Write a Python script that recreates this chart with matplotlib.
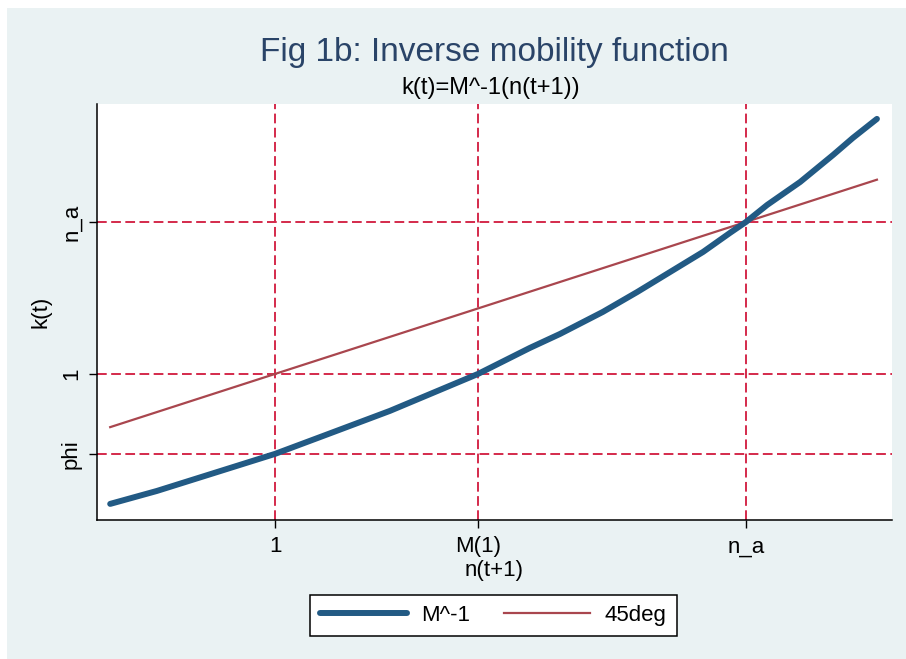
import matplotlib
matplotlib.use("Agg")
import matplotlib.pyplot as plt
from matplotlib.patches import Rectangle

# ---- data ----
phi = 0.474
M1 = 1.431
n_a = 2.0

m_inv_x = [0.650, 0.749, 1.000, 1.102, 1.244, 1.431, 1.541, 1.605, 1.696,
           1.769, 1.839, 1.909, 1.966, 2.000, 2.045, 2.115, 2.185, 2.227, 2.278]
m_inv_y = [0.145, 0.230, 0.474, 0.592, 0.757, 1.000, 1.171, 1.263, 1.408,
           1.539, 1.671, 1.803, 1.928, 2.000, 2.112, 2.263, 2.441, 2.553, 2.678]

deg45_x = [0.650, 2.278]
deg45_y = [0.650, 2.278]

xticks = [1.0, M1, n_a]
xtick_labels = ["1", "M(1)", "n_a"]
yticks = [phi, 1.0, n_a]
ytick_labels = ["phi", "1", "n_a"]

# ---- style ----
plt.rcParams['font.family'] = ['Liberation Sans', 'DejaVu Sans']
plt.rcParams['lines.scale_dashes'] = False

W, H = 906, 659
fig = plt.figure(figsize=(W / 100, H / 100), dpi=100, facecolor="white")

bg = Rectangle((7 / W, 0), 1 - 7 / W, 1 - 8 / H, transform=fig.transFigure,
               facecolor="#eaf2f3", edgecolor="none", zorder=-10)
fig.patches.append(bg)

L, R, T, B = 97, 892, 104, 520
ax = fig.add_axes([L / W, 1 - B / H, (R - L) / W, (B - T) / H])
ax.set_facecolor("white")

ref_color = "#d42a4b"
dash = (0, (7, 3.2))
for xv in xticks:
    ax.axvline(xv, color=ref_color, lw=1.4, ls=dash, zorder=1)
for yv in yticks:
    ax.axhline(yv, color=ref_color, lw=1.4, ls=dash, zorder=1)

l1, = ax.plot(m_inv_x, m_inv_y, color="#225a84", lw=4.3, solid_capstyle="round",
              solid_joinstyle="round", zorder=3, label="M^-1")
l2, = ax.plot(deg45_x, deg45_y, color="#a9464e", lw=1.6, zorder=2, label="45deg")

ax.set_xlim(0.622, 2.310)
ax.set_ylim(0.039, 2.776)

for s in ["top", "right"]:
    ax.spines[s].set_visible(False)
for s in ["left", "bottom"]:
    ax.spines[s].set_linewidth(1.1)
    ax.spines[s].set_color("black")

ax.set_xticks(xticks)
ax.set_xticklabels(xtick_labels)
ax.set_yticks(yticks)
ax.set_yticklabels(ytick_labels, rotation=90, va="center")
ax.tick_params(axis="both", direction="out", length=5.8, width=1.0,
               labelsize=16, colors="black")
ax.tick_params(axis="x", pad=6)
ax.tick_params(axis="y", pad=5)

ax.set_xlabel("n(t+1)", fontsize=16, labelpad=2)
ax.set_ylabel("k(t)", fontsize=16, labelpad=7)

fig.text(494 / W, 1 - 60.7 / H, "Fig 1b: Inverse mobility function",
         fontsize=24, color="#2a4468", ha="center", va="baseline")
fig.text(491 / W, 1 - 94 / H, "k(t)=M^-1(n(t+1))",
         fontsize=17, color="black", ha="center", va="baseline")

leg = fig.legend(handles=[l1, l2], labels=["M^-1", "45deg"], ncol=2,
                 loc="center", bbox_to_anchor=(493.5 / W, 1 - 615.5 / H),
                 fontsize=16, frameon=True, fancybox=False, shadow=False,
                 handlelength=3.9, handletextpad=0.65, columnspacing=1.5,
                 borderpad=0.45, edgecolor="black", facecolor="white",
                 framealpha=1)
leg.get_frame().set_linewidth(1.1)

fig.savefig("out.png", dpi=100, facecolor="white")
